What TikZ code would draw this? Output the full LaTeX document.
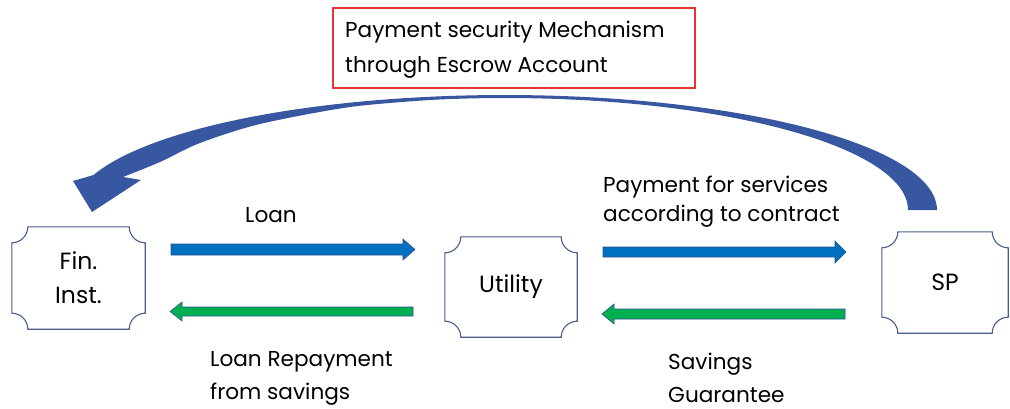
\documentclass[tikz,border=0pt]{standalone}
\usepackage{fontspec}
\setmainfont{Poppins}
\usepackage{tikz}
\usetikzlibrary{positioning, calc}
\usepackage{xcolor}

\definecolor{plaqueline}{RGB}{72,94,140}
\definecolor{escrowred}{RGB}{232,52,52}
\definecolor{flowblue}{RGB}{0,112,192}
\definecolor{flowgreen}{RGB}{0,176,80}
\definecolor{flowedge}{RGB}{47,82,143}
\definecolor{curveblue}{RGB}{55,88,160}

\begin{document}
\begin{tikzpicture}[x=1pt, y=-1pt,
		party/.style={inner sep=0pt, align=center, font=\fontsize{23.5}{34}\selectfont},
		plaque/.style={draw=plaqueline, line width=1.1pt},
		label/.style={inner sep=0pt, align=left, anchor=west},
		blockblue/.style={fill=flowblue, draw=flowedge, line width=0.6pt},
		blockgreen/.style={fill=flowgreen, draw=flowedge, line width=0.6pt}]
			\useasboundingbox (0,0) rectangle (1010,409);
			% parties
			\node[party, minimum width=133pt, minimum height=102pt] (fin) at (78.5,278) {Fin.\\Inst.};
			\node[party, minimum width=132pt, minimum height=100pt] (util) at (511,287) {Utility};
			\node[party, minimum width=126pt, minimum height=101pt] (sp) at (945,282.5) {SP};
			% plaque outlines
			\foreach \n in {fin, util, sp} {
				\draw[plaque] ($(\n.north west)+(0,16)$) .. controls +(8.8,0) and +(0,8.8) .. ($(\n.north west)+(16,0)$)
					-- ($(\n.north east)+(-16,0)$) .. controls +(0,8.8) and +(-8.8,0) .. ($(\n.north east)+(0,16)$)
					-- ($(\n.south east)+(0,-16)$) .. controls +(-8.8,0) and +(0,-8.8) .. ($(\n.south east)+(-16,0)$)
					-- ($(\n.south west)+(16,0)$) .. controls +(0,-8.8) and +(8.8,0) .. ($(\n.south west)+(0,-16)$)
					-- cycle;
			}
			% escrow box
			\draw[escrowred, line width=1.4pt] (333,8) rectangle (695,88);
			\node[label, font=\fontsize{21.6}{35}\selectfont] (escrow) at (345,50) {Payment security Mechanism\\through Escrow Account};
			% curved arrow
			\fill[curveblue] plot[domain=0:-162.3, samples=90] ({505+432*cos(\x)}, {210+115*sin(\x)})
				-- (73,181) -- (92,212) -- (141,180) -- (123,177)
				-- plot[smooth] coordinates {(123,177) (160,162) (200,143) (260,124) (350,107) (430,100)}
				-- plot[domain=-100.7:0, samples=80] ({505+403*cos(\x)}, {210+112*sin(\x)}) -- cycle;
			% flows
			\filldraw[blockblue] (171,244) -- (403,244) -- (403,239) -- (415,249.5) -- (403,260) -- (403,255) -- (171,255) -- cycle;
			\filldraw[blockgreen] (413,307) -- (182,307) -- (182,302) -- (170,311.5) -- (182,321) -- (182,316) -- (413,316) -- cycle;
			\filldraw[blockblue] (603,247) -- (835,247) -- (835,241) -- (846,252) -- (835,263) -- (835,257) -- (603,257) -- cycle;
			\filldraw[blockgreen] (845,309) -- (614,309) -- (614,304) -- (602,314) -- (614,324) -- (614,319) -- (845,319) -- cycle;
			% flow labels
			\node[label, font=\fontsize{21.6}{29}\selectfont] (loan) at (245,215) {Loan};
			\node[label, font=\fontsize{21.6}{29}\selectfont] (payment) at (603,202) {Payment for services\\according to contract};
			\node[label, font=\fontsize{21.6}{33}\selectfont] (repay) at (210,378) {Loan Repayment\\from savings};
			\node[label, font=\fontsize{21.6}{33}\selectfont] (savings) at (668,378) {Savings\\Guarantee};
		\end{tikzpicture}
\end{document}
